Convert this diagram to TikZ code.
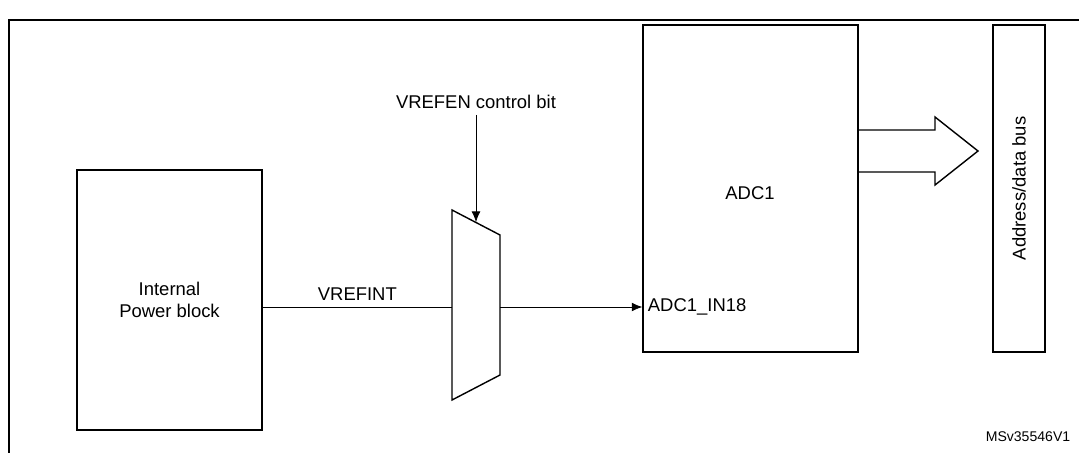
\documentclass[tikz,border=0pt]{standalone}
\usepackage{fontspec}
\setmainfont{Liberation Sans}
\usetikzlibrary{positioning,shapes.arrows,arrows.meta}
\begin{document}
\begin{tikzpicture}[
    x=0.02cm, y=-0.02cm,
    blk/.style={rectangle, draw, thick, inner sep=0pt},
    lbl/.style={font=\fontsize{10.5}{12.5}\selectfont, align=center},
    sig/.style={-{Latex[length=6pt,width=5pt]}}
]
    \useasboundingbox (0,0) rectangle (1079,453);
    % frame
    \draw[line width=1.6pt] (9,460) -- (9,20) -- (1090,20);

    % blocks
    \node[blk, minimum width=185*0.02cm, minimum height=260*0.02cm, lbl] (pwr) at (169.5,300) {Internal\\Power block};
    \node[blk, minimum width=215*0.02cm, minimum height=327*0.02cm] (adc) at (750.5,188.5) {};
    \node[lbl] (adcname) at (750,193) {ADC1};
    \node[blk, minimum width=52*0.02cm, minimum height=327*0.02cm] (bus) at (1019,188.5) {};
    \node[lbl, rotate=90] (busname) at (bus.center) {Address/data bus};

    % mux
    \draw[thick] (452,210) -- (500,235) -- (500,375) -- (452,400) -- cycle;
    \coordinate (muxin) at (452,307);
    \coordinate (muxout) at (500,307);
    \coordinate (muxtop) at (476,222);
    \node[lbl] (vrefen) at (476,102) {VREFEN control bit};
    \draw[sig] (vrefen.south) -- (muxtop);

    % signals
    \draw (pwr.east |- muxin) -- node[lbl, above] {VREFINT} (muxin);
    \coordinate (adcin) at (adc.west |- muxout);
    \draw[sig] (muxout) -- (adcin);
    \node[lbl, anchor=west, inner sep=3pt] (inname) at (adcin) {ADC1\_IN18};

    % bus arrow
    \draw[thick] (858,130) -- (935,130) -- (935,117) -- (978,151) -- (935,185) -- (935,172) -- (858,172);

    \node[font=\fontsize{8}{9}\selectfont] (ref) at (1028,437) {MSv35546V1};
\end{tikzpicture}
\end{document}
